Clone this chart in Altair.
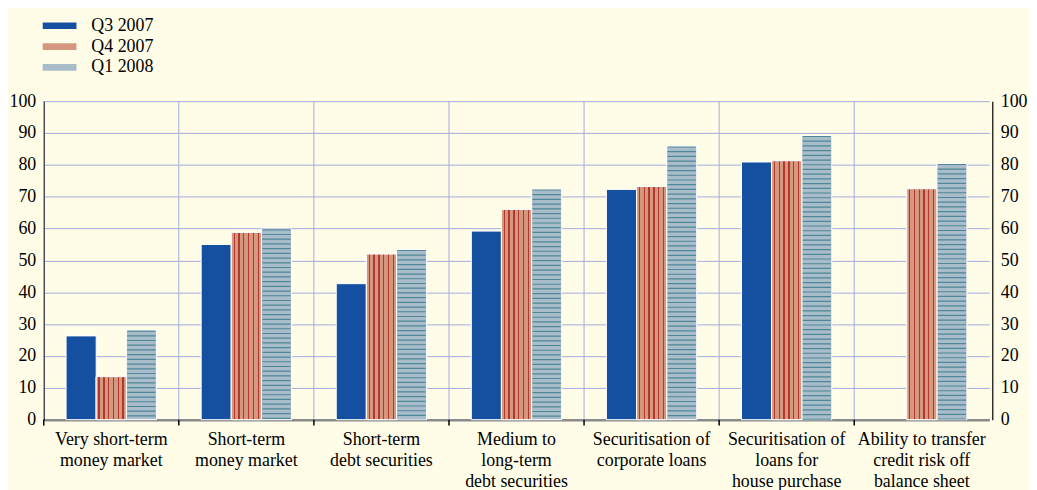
import altair as alt
import pandas as pd

categories = [
    "Very short-term|money market",
    "Short-term|money market",
    "Short-term|debt securities",
    "Medium to|long-term|debt securities",
    "Securitisation of|corporate loans",
    "Securitisation of|loans for|house purchase",
    "Ability to transfer|credit risk off|balance sheet",
]
series = ["Q3 2007", "Q4 2007", "Q1 2008"]
q3_2007 = [26.3, 55.0, 42.7, 59.2, 72.3, 80.9, None]
q4_2007 = [13.5, 58.8, 52.0, 66.0, 73.2, 81.3, 72.5]
q1_2008 = [28.0, 59.8, 53.3, 72.3, 85.8, 89.1, 80.3]
y_ticks = [0, 10, 20, 30, 40, 50, 60, 70, 80, 90, 100]

rows = []
for s, vals in zip(series, [q3_2007, q4_2007, q1_2008]):
    for c, v in zip(categories, vals):
        rows.append({"category": c, "series": s, "value": v})
df = pd.DataFrame(rows)
cat_df = pd.DataFrame({"category": categories})

BG = "#FFFDE8"
GRID = "#A3ABDD"
C_Q3 = "#1550A0"
C_Q4 = "#D6977F"
C_Q4_LINE = "#B0382C"
C_Q1 = "#A9BCC9"
C_Q1_LINE = "#4E8797"
FONT = "Liberation Serif"
FS = 18

# vertical stripe gradient for Q4
stops = [alt.GradientStop(offset=0, color=C_Q4)]
for i in range(6):
    a = (2.2 + 4.7 * i) / 29.5
    b = a + 1.3 / 29.5
    stops += [
        alt.GradientStop(offset=a, color=C_Q4),
        alt.GradientStop(offset=a, color=C_Q4_LINE),
        alt.GradientStop(offset=b, color=C_Q4_LINE),
        alt.GradientStop(offset=b, color=C_Q4),
    ]
stops.append(alt.GradientStop(offset=1, color=C_Q4))
q4_grad = alt.LinearGradient(gradient="linear", x1=0, x2=1, y1=0, y2=0, stops=stops)

x_scale = alt.Scale(paddingInner=0, paddingOuter=0)
x_enc = alt.X(
    "category:N",
    sort=categories,
    title=None,
    scale=x_scale,
    axis=alt.Axis(
        labelExpr="split(datum.label, '|')",
        labelAngle=0,
        labelAlign="center",
        labelFlush=False,
        labelBound=False,
        labelOverlap=False,
        labelFont=FONT,
        labelFontSize=FS,
        labelColor="black",
        labelLineHeight=21,
        labelBaseline="top",
        labelPadding=11,
        bandPosition=0.5,
        ticks=False,
        domainColor="#8A8A8A",
        domainWidth=2.5,
        grid=False,
    ),
)
xo = alt.XOffset("series:N", sort=series, scale=alt.Scale(paddingInner=0, paddingOuter=0.742))
y_scale = alt.Scale(domain=[0, 100], nice=False)

bars = alt.Chart(df).mark_bar(stroke="white", strokeWidth=1).encode(
    x=x_enc,
    xOffset=xo,
    y=alt.Y(
        "value:Q",
        scale=y_scale,
        title=None,
        axis=alt.Axis(
            values=y_ticks,
            orient="left",
            labelFont=FONT,
            labelFontSize=FS,
            labelColor="black",
            labelPadding=8,
            ticks=False,
            domainColor="black",
            domainWidth=1.2,
            grid=True,
            gridColor=GRID,
            gridWidth=1,
        ),
    ),
    color=alt.Color(
        "series:N",
        sort=series,
        scale=alt.Scale(domain=series, range=[C_Q3, C_Q4, C_Q1]),
        legend=alt.Legend(
            title=None,
            orient="none",
            legendX=7,
            legendY=-85,
            symbolType="M-2,-0.4H2V0.4H-2Z",
            symbolSize=289,
            symbolStrokeWidth=0,
            labelFont=FONT,
            labelFontSize=FS,
            labelColor="black",
            labelOffset=23,
            rowPadding=3,
        ),
    ),
)

separators = alt.Chart(cat_df).mark_rule(color=GRID, strokeWidth=1).encode(
    x=alt.X("category:N", sort=categories, bandPosition=0),
    y=alt.Y("yt:Q", scale=y_scale, axis=None),
    y2=alt.datum(0),
).transform_calculate(yt="100")

ticks = alt.Chart(cat_df).mark_rule(color="black", strokeWidth=1.5, y2Offset=6).encode(
    x=alt.X("category:N", sort=categories, bandPosition=0),
    y=alt.Y("yb:Q", scale=y_scale, axis=None),
    y2=alt.datum(0),
).transform_calculate(yb="0")

q4_layer = alt.Chart(df).transform_filter(alt.datum.series == "Q4 2007").mark_bar(
    fill=q4_grad, stroke="white", strokeWidth=1
).encode(
    x=alt.X("category:N", sort=categories),
    xOffset=xo,
    y=alt.Y("value:Q", scale=y_scale, axis=None),
)

q1_layer = alt.Chart(df).transform_filter(alt.datum.series == "Q1 2008").mark_rule(
    color=C_Q1_LINE, strokeWidth=28.5, strokeDash=[1.2, 3.55], strokeCap="butt"
).encode(
    x=alt.X("category:N", sort=categories),
    xOffset=xo,
    y=alt.Y("value:Q", scale=y_scale, axis=None),
    y2=alt.datum(0),
)

right_axis = alt.Chart(df).mark_point(opacity=0).encode(
    y=alt.Y(
        "value:Q",
        scale=alt.Scale(domain=[0, 100], nice=False),
        title=None,
        axis=alt.Axis(
            values=y_ticks,
            orient="right",
            offset=3,
            labelFont=FONT,
            labelFontSize=FS,
            labelColor="black",
            labelPadding=8,
            ticks=False,
            domainColor="black",
            domainWidth=1.2,
            grid=False,
        ),
    ),
)

chart = (
    alt.layer(bars, separators, q4_layer, q1_layer, ticks, right_axis)
    .resolve_scale(y="independent")
    .properties(
        width=953,
        height=321,
        background=BG,
        autosize=alt.AutoSizeParams(type="none"),
        padding={"left": 36, "top": 92, "right": 40, "bottom": 69},
    )
    .configure_view(stroke=None, fill=BG)
)

chart.save("out.html", embed_options={"renderer": "svg", "actions": False})
